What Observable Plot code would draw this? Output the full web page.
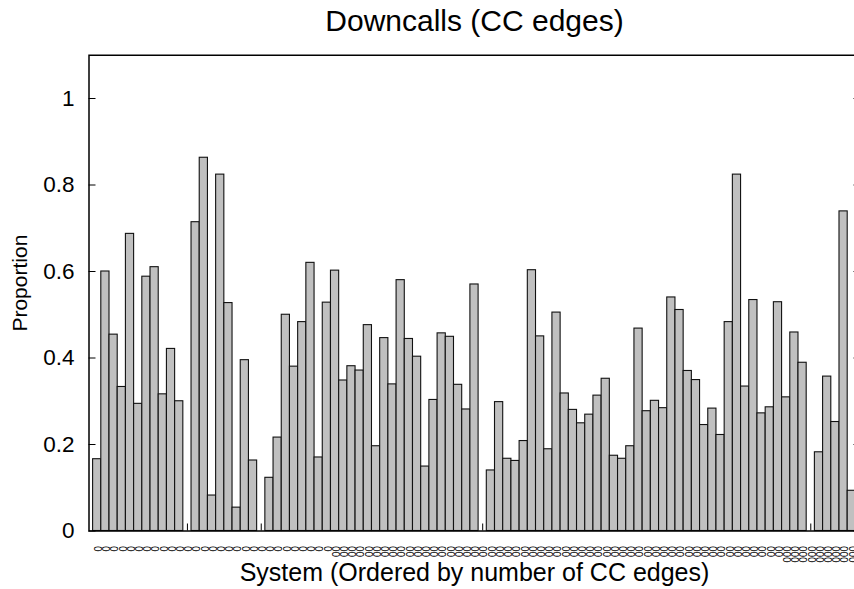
<!DOCTYPE html>
<html>
<head>
<meta charset="utf-8">
<script src="https://cdn.jsdelivr.net/npm/d3@7"></script>
<script src="https://cdn.jsdelivr.net/npm/@observablehq/plot@0.6"></script>
<style>
  html, body { margin: 0; padding: 0; background: #fff; overflow: hidden; }
  #chart svg { display: block; }
</style>
</head>
<body>
<div id="chart"></div>
<script>
const title = "Downcalls (CC edges)";
const xLabel = "System (Ordered by number of CC edges)";
const yLabel = "Proportion";

// systems, in order (1..93)
const systems = d3.range(1, 94);

// proportion of downcalls per system
const proportions = [
  0.166, 0.600, 0.454, 0.333, 0.687, 0.294, 0.588, 0.610, 0.316, 0.421,
  0.300, 0.000, 0.714, 0.863, 0.082, 0.824, 0.527, 0.054, 0.395, 0.163,
  0.000, 0.123, 0.216, 0.500, 0.380, 0.483, 0.620, 0.170, 0.528, 0.602,
  0.348, 0.381, 0.371, 0.476, 0.196, 0.446, 0.339, 0.580, 0.444, 0.403,
  0.149, 0.303, 0.457, 0.449, 0.338, 0.281, 0.570, 0.000, 0.140, 0.298,
  0.167, 0.162, 0.208, 0.603, 0.450, 0.189, 0.505, 0.318, 0.280, 0.249,
  0.269, 0.313, 0.352, 0.174, 0.167, 0.196, 0.468, 0.277, 0.301, 0.284,
  0.540, 0.511, 0.370, 0.349, 0.245, 0.283, 0.222, 0.483, 0.824, 0.334,
  0.534, 0.272, 0.286, 0.529, 0.309, 0.459, 0.389, 0.000, 0.182, 0.357,
  0.252, 0.739, 0.093
];

// tiny rotated x tick labels (illegible in the source; rendered as zero glyphs)
const xTickLabels = (
  "0 0 0 0 0 0 0 0 0 0 0 0 0 0 0 0 0 0 0 0 0 0 0 0 0 0 0 0 0 " +
  "00 00 00 00 00 00 00 00 00 00 00 00 00 00 00 00 00 00 00 00 " +
  "00 00 00 00 00 00 00 00 00 00 00 00 00 00 00 00 00 00 00 00 " +
  "00 00 00 00 00 00 00 00 00 00 00 00 00 00 00 " +
  "000 000 000 000 000 000 000 000 000"
).split(" ");

const yTicks = [0, 0.2, 0.4, 0.6, 0.8, 1];
const yTickLabels = ["0", "0.2", "0.4", "0.6", "0.8", "1"];

const data = systems.map((s, i) => ({system: s, value: proportions[i], label: xTickLabels[i]}));

const font = "'Liberation Sans', Arial, Helvetica, sans-serif";

const chart = Plot.plot({
  width: 854,
  height: 589,
  marginLeft: 88.5,
  marginRight: -5.5,
  marginTop: 54.75,
  marginBottom: 58.5,
  style: {fontFamily: font, background: "#fff", color: "#000", maxWidth: "none", overflow: "hidden"},
  x: {type: "linear", domain: [0, 94], axis: null},
  y: {domain: [0, 1.1], axis: null},
  marks: [
    // inward x ticks (hidden behind bars, visible in empty slots)
    Plot.axisX(systems, {tickSize: -7, fill: "none", stroke: "#000", strokeWidth: 1}),
    Plot.rect(data, {
      x1: d => d.system - 0.5,
      x2: d => d.system + 0.5,
      y1: 0,
      y2: "value",
      fill: "#c0c0c0",
      stroke: "#111",
      strokeWidth: 1.1
    }),
    Plot.axisY(yTicks, {tickSize: -7, fill: "none", stroke: "#000"}),
    Plot.axisY(yTicks, {anchor: "right", tickSize: -7, fill: "none", stroke: "#000"}),
    Plot.axisY(yTicks, {
      tickSize: 0, tickPadding: 14.5, fontSize: 22.5, label: null, fill: "#000",
      tickFormat: d => yTickLabels[yTicks.indexOf(d)]
    }),
    Plot.text(data, {
      x: "system", y: 0, text: "label", rotate: 90,
      textAnchor: "start", lineAnchor: "middle", dy: 15, fontSize: 10, fill: "#000"
    }),
    Plot.frame({stroke: "#000", strokeWidth: 1.5}),
    Plot.text([title], {frameAnchor: "top", lineAnchor: "bottom", dy: -24.75, fontSize: 30, fill: "#000"}),
    Plot.text([xLabel], {frameAnchor: "bottom", lineAnchor: "bottom", dy: 49.5, fontSize: 25, fill: "#000"}),
    Plot.text([yLabel], {
      frameAnchor: "left", rotate: -90, textAnchor: "middle", lineAnchor: "bottom",
      dx: -61.8, dy: -10, fontSize: 21, fill: "#000"
    })
  ]
});

document.getElementById("chart").appendChild(chart);
</script>
</body>
</html>
